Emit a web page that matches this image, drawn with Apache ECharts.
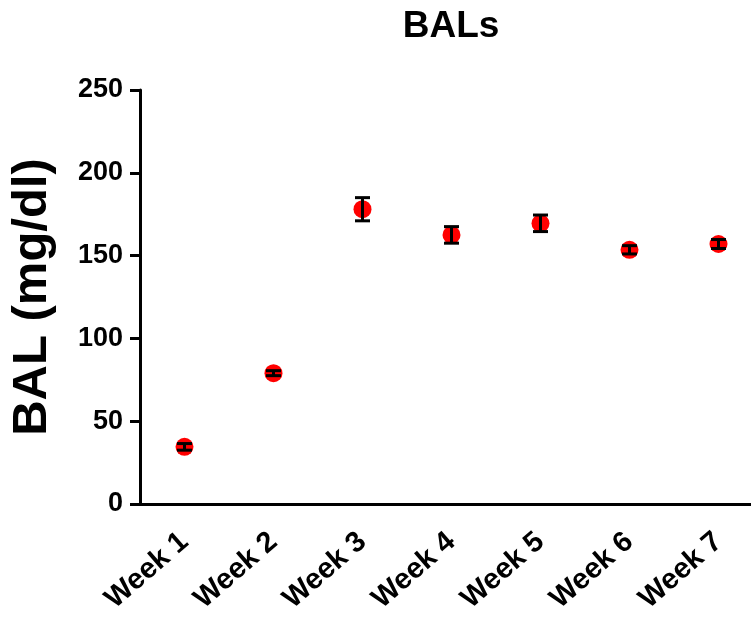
<!DOCTYPE html>
<html>
<head>
<meta charset="utf-8">
<script src="https://cdn.jsdelivr.net/npm/echarts@6/dist/echarts.min.js"></script>
<style>html,body{margin:0;padding:0;background:#fff;overflow:hidden}#c{width:763px;height:621px}</style>
</head>
<body>
<div id="c"></div>
<script>
var categories = ['Week 1','Week 2','Week 3','Week 4','Week 5','Week 6','Week 7'];
var means = [34.5, 79, 178, 162.5, 169.5, 153.5, 157];
var errors = [2, 1.5, 7, 5, 5, 2.5, 2.7];
var yTicks = [0, 50, 100, 150, 200, 250];

var F = '"Liberation Sans", Arial, sans-serif';
var chart = echarts.init(document.getElementById('c'));
var errData = categories.map(function(c, i){ return [i, means[i] - errors[i], means[i] + errors[i]]; });
chart.setOption({
  animation: false,
  title: { text: 'BALs', left: 446, top: 3, textAlign: 'center',
    textStyle: { fontFamily: F, fontWeight: 'bold', fontSize: 37, color: '#000' } },
  grid: { left: 140, top: 90, right: 0, height: 414, containLabel: false },
  xAxis: {
    type: 'category', data: categories, boundaryGap: true,
    axisLine: { lineStyle: { color: '#000', width: 3 } },
    axisTick: { alignWithLabel: true, length: 9, lineStyle: { color: '#000', width: 3 } },
    axisLabel: { rotate: 41, margin: 34, color: '#000', fontFamily: F, fontWeight: 'bold', fontSize: 29 },
    splitLine: { show: false }
  },
  yAxis: {
    type: 'value', min: 0, max: 250, interval: 50,
    name: 'BAL (mg/dl)', nameLocation: 'middle', nameGap: 83,
    nameTextStyle: { fontFamily: F, fontWeight: 'bold', fontSize: 49, color: '#000' },
    axisLine: { show: true, lineStyle: { color: '#000', width: 3 } },
    axisTick: { show: true, length: 10, lineStyle: { color: '#000', width: 3 } },
    axisLabel: { margin: 17, color: '#000', fontFamily: F, fontWeight: 'bold', fontSize: 27,
      formatter: function(v){ return yTicks.indexOf(v) >= 0 ? String(v) : ''; } },
    splitLine: { show: false }
  },
  series: [
    { type: 'scatter', data: means, symbol: 'circle', symbolSize: 18,
      itemStyle: { color: '#ff0000', opacity: 1 }, z: 2 },
    { type: 'custom', z: 3, data: errData,
      renderItem: function(params, api){
        var x = api.value(0);
        var lo = api.coord([x, api.value(1)]);
        var hi = api.coord([x, api.value(2)]);
        var hw = 7.5;
        var st = { stroke: '#000', lineWidth: 3 };
        return { type: 'group', children: [
          { type: 'line', shape: { x1: lo[0], y1: lo[1], x2: hi[0], y2: hi[1] }, style: st },
          { type: 'line', shape: { x1: lo[0]-hw, y1: lo[1], x2: lo[0]+hw, y2: lo[1] }, style: st },
          { type: 'line', shape: { x1: hi[0]-hw, y1: hi[1], x2: hi[0]+hw, y2: hi[1] }, style: st }
        ]};
      }
    }
  ]
});
</script>
</body>
</html>
